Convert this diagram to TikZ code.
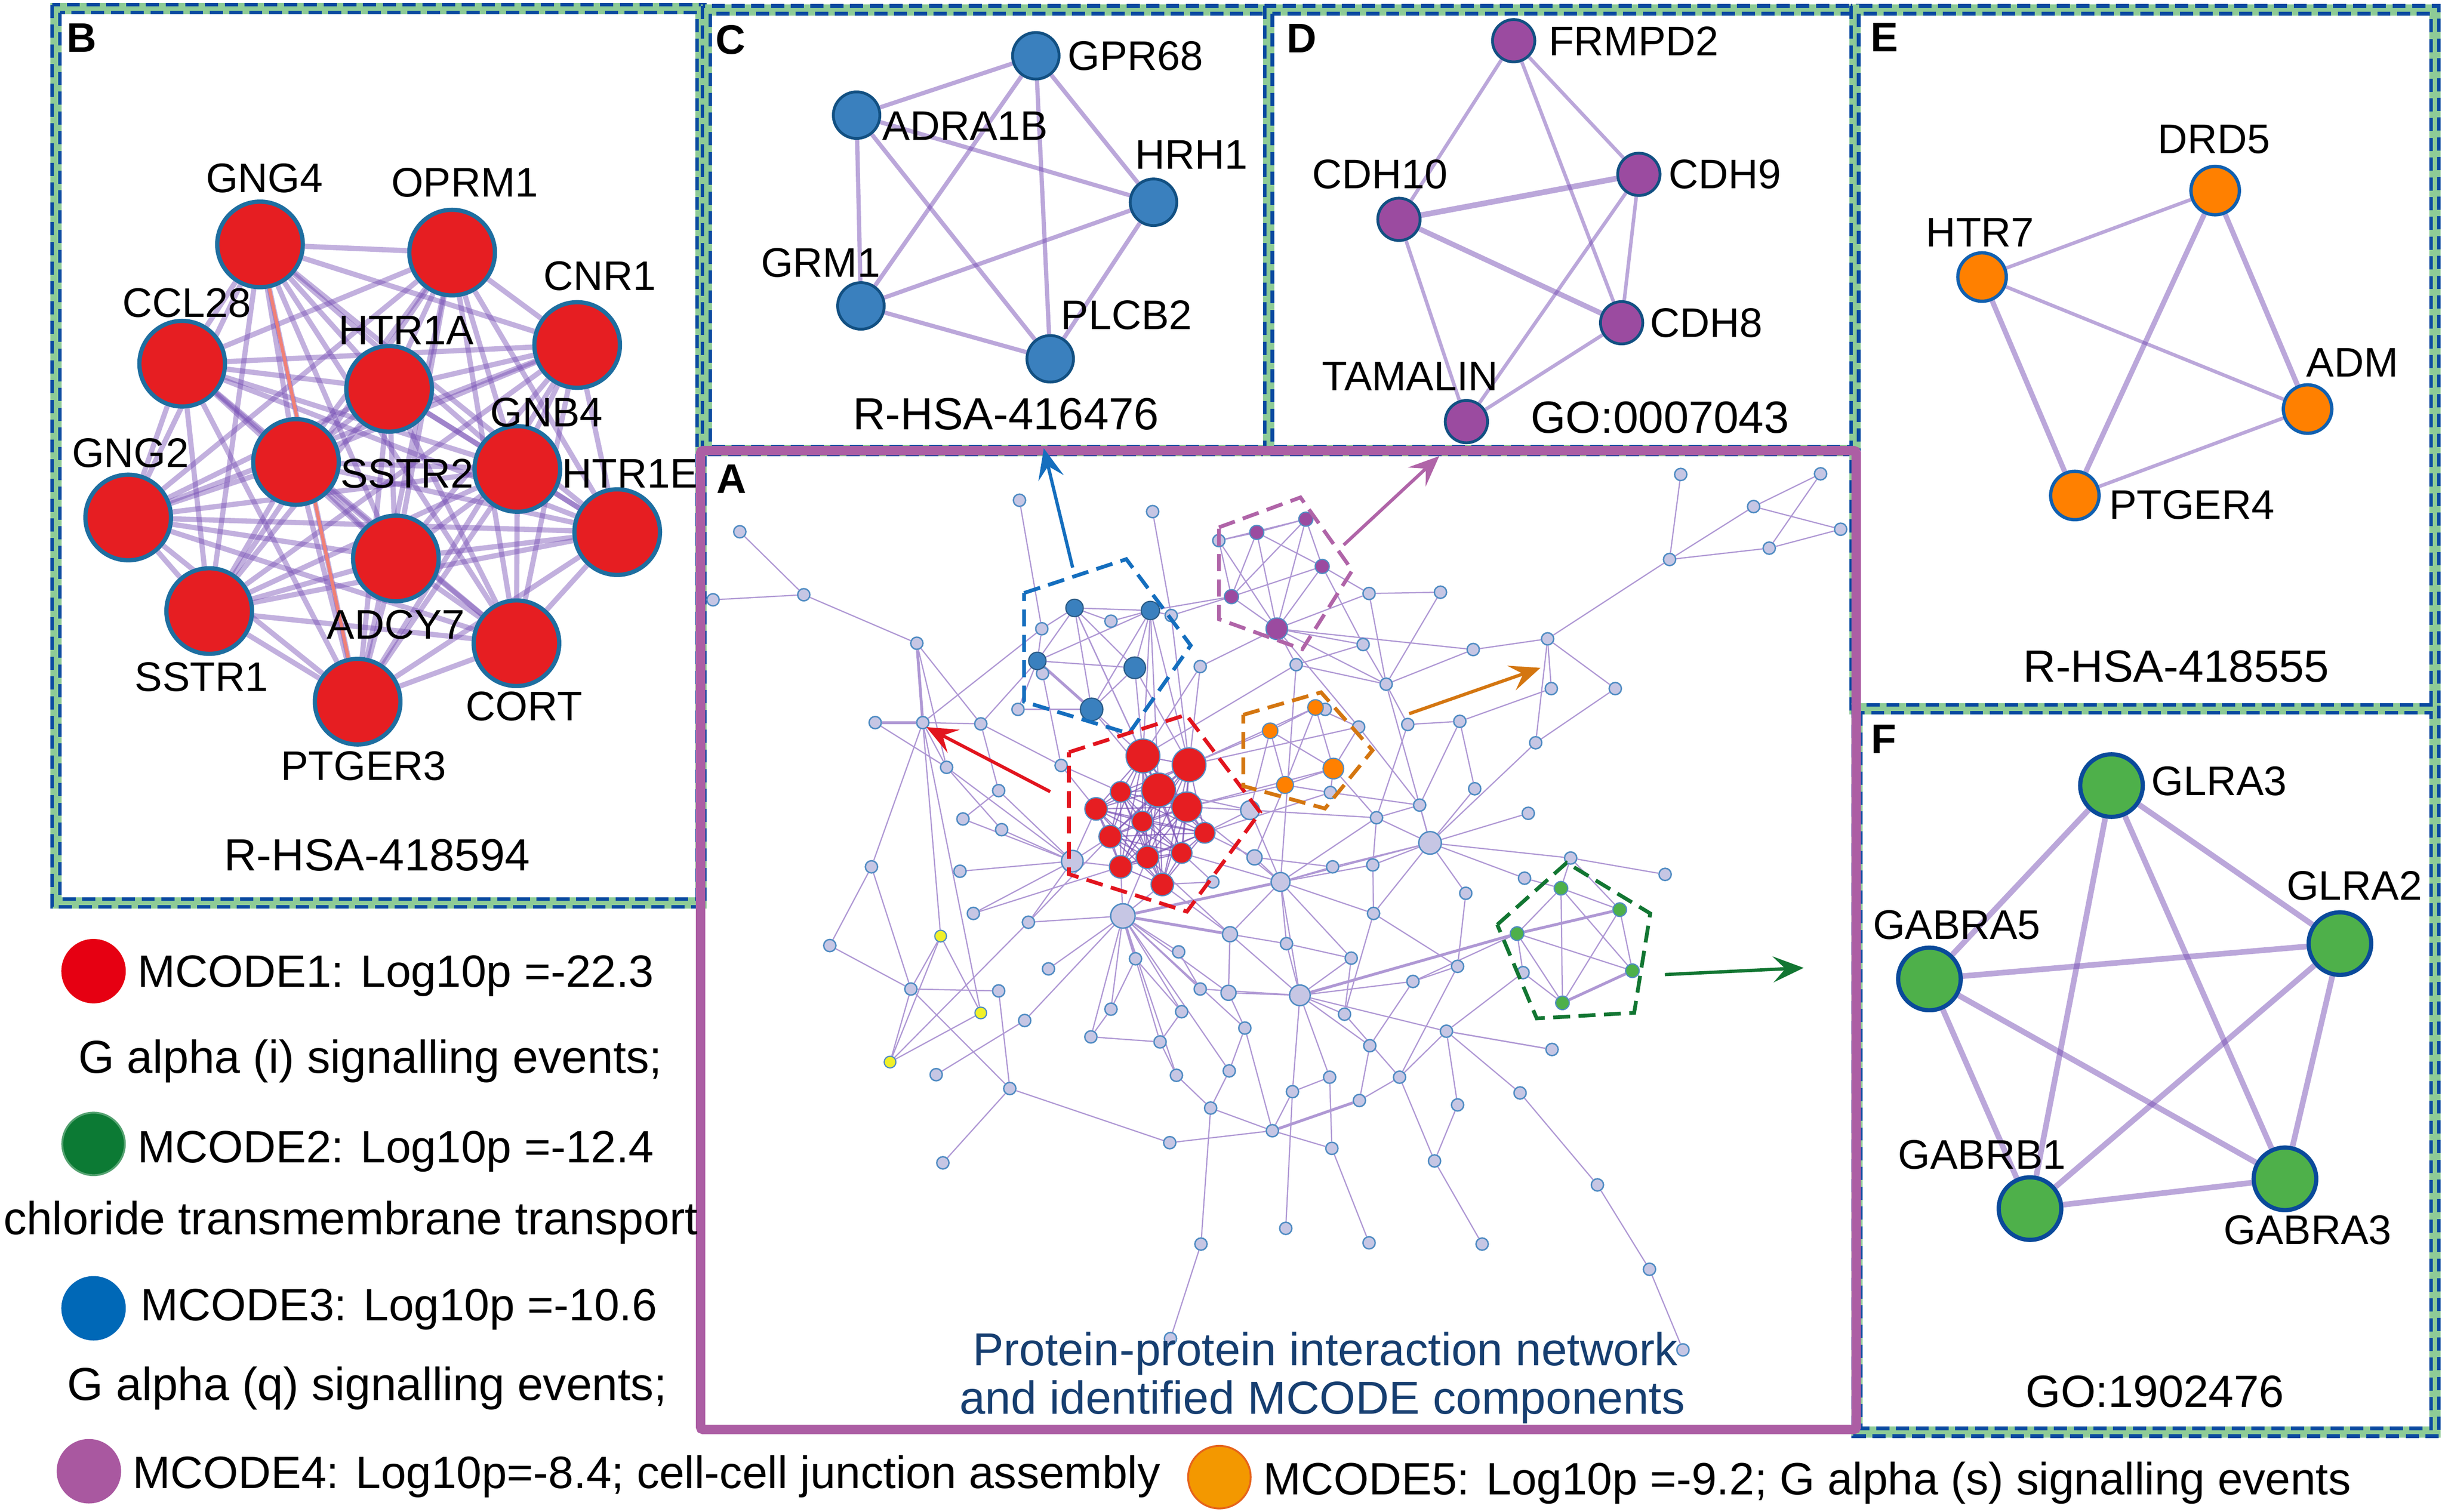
\documentclass[tikz,border=0pt]{standalone}
\usepackage{fontspec}
\setmainfont{Liberation Sans}
\usetikzlibrary{arrows.meta,calc}
\pgfdeclarelayer{bg}
\pgfdeclarelayer{edges}
\pgfsetlayers{bg,edges,main}
\definecolor{fgreen}{RGB}{142,203,150}
\definecolor{fblue}{RGB}{10,74,160}
\definecolor{apurple}{RGB}{172,94,164}
\definecolor{edgep}{RGB}{120,80,182}
\definecolor{netedge}{RGB}{175,152,212}
\definecolor{gfill}{RGB}{198,198,228}
\definecolor{gline}{RGB}{80,140,195}
\definecolor{rfill}{RGB}{230,30,34}
\definecolor{redline}{RGB}{30,110,160}
\definecolor{bfill}{RGB}{58,128,190}
\definecolor{bline}{RGB}{18,80,130}
\definecolor{pfill}{RGB}{155,75,160}
\definecolor{ofill}{RGB}{255,128,0}
\definecolor{eline}{RGB}{16,96,176}
\definecolor{gnfill}{RGB}{78,176,74}
\definecolor{fline}{RGB}{10,74,154}
\definecolor{yfill}{RGB}{240,240,40}
\definecolor{cblue}{RGB}{20,110,190}
\definecolor{cred}{RGB}{226,20,30}
\definecolor{cpurple}{RGB}{176,100,168}
\definecolor{corange}{RGB}{212,118,16}
\definecolor{cgreen}{RGB}{18,118,50}
\definecolor{captblue}{RGB}{22,62,112}
\definecolor{salmon}{RGB}{240,128,118}
\definecolor{lred}{RGB}{230,0,18}
\definecolor{lgreen}{RGB}{12,122,52}
\definecolor{lblue}{RGB}{0,104,183}
\definecolor{lpurple}{RGB}{169,88,160}
\definecolor{lorange}{RGB}{243,152,0}
\newcommand\myGene{\fontsize{25}{30}\selectfont}
\newcommand\myCap{\fontsize{27.3}{32}\selectfont}
\newcommand\myLeg{\fontsize{28}{33}\selectfont}
\newcommand\myLegS{\fontsize{27.4}{33}\selectfont}
\newcommand\myPan{\fontsize{25}{30}\selectfont\bfseries}
\newcommand\dframe[4]{%
  \draw[fgreen, line width=2.4mm] (#1,#2) rectangle (#3,#4);
  \draw[fblue, line width=0.75mm, dash pattern=on 2.8mm off 1.4mm] ($(#1,#2)+(-0.83mm,0.83mm)$) rectangle ($(#3,#4)+(0.83mm,-0.83mm)$);
  \draw[fblue, line width=0.75mm, dash pattern=on 2.8mm off 1.4mm] ($(#1,#2)+(0.83mm,-0.83mm)$) rectangle ($(#3,#4)+(-0.83mm,0.83mm)$);}
\begin{document}
\begin{tikzpicture}[x=0.03316cm,y=-0.03316cm,
  gene/.style={font=\myGene, inner sep=0pt},
  capt/.style={font=\myCap, inner sep=0pt},
  pan/.style={font=\myPan, inner sep=0pt},
  leg/.style={font=\myLeg, inner sep=0pt, anchor=west},
  legs/.style={font=\myLegS, inner sep=0pt, anchor=west},
  bigred/.style={circle, fill=rfill, draw=redline, line width=0.9mm, minimum size=18.2mm, inner sep=0pt},
  cnode/.style={circle, fill=bfill, draw=bline, line width=0.6mm, minimum size=9.9mm, inner sep=0pt},
  dnode/.style={circle, fill=pfill, draw=bline, line width=0.6mm, minimum size=9mm, inner sep=0pt},
  enode/.style={circle, fill=ofill, draw=eline, line width=0.7mm, minimum size=10.3mm, inner sep=0pt},
  fnode/.style={circle, fill=gnfill, draw=fline, line width=0.9mm, minimum size=13.3mm, inner sep=0pt},
  gn/.style={circle, fill=gfill, draw=gline, line width=0.3mm, inner sep=0pt},
  mn/.style={circle, draw=gline, line width=0.25mm, inner sep=0pt},
  bedge/.style={edgep, line width=1.1mm, opacity=0.45},
  pedge/.style={edgep, line width=0.9mm, opacity=0.5},
  net/.style={netedge, line width=0.26mm},
  netk/.style={netedge, line width=0.6mm},
  redge/.style={edgep, line width=0.25mm, opacity=0.7},
  pent/.style={line width=0.8mm, dash pattern=on 3.6mm off 1.8mm},
  arr/.style={line width=0.7mm, -{Stealth[length=6.5mm,width=5.5mm,inset=2.6mm]}},
  legc/.style={circle, minimum size=13.3mm, inner sep=0pt, line width=0.4mm}]
\begin{pgfonlayer}{bg}
\fill[white] (0,0) rectangle (1568,969.5);
\end{pgfonlayer}
\useasboundingbox (0,0) rectangle (1568,969.5);

% ---------- frames ----------
\dframe{36}{5.6}{449.5}{579}
\dframe{453}{6.3}{813.5}{289}
\dframe{813.5}{6.3}{1189.5}{289}
\dframe{1189.5}{6.3}{1561.5}{454.5}
\dframe{1191}{454.5}{1561.5}{918.5}
\draw[apurple, line width=2mm, rounded corners=0.5mm] (449.3,289) rectangle (1190.4,916.7);

% ---------- panel B ----------
\begin{scope}[xscale=0.2885, yscale=0.375]
  \node[pan] (labB) at (182,65) {B};
  \foreach \nm/\x/\y in {GNG4/578/418, OPRM1/1005/432, CNR1/1283/590, CCL28/405/622, HTR1A/865/665, SSTR2/658/790, GNB4/1150/802, HTR1E/1372/910, GNG2/285/885, ADCY7/880/955, SSTR1/465/1045, CORT/1148/1100, PTGER3/795/1200}
    \node[bigred] (\nm) at (\x,\y) {};
  \foreach \nm/\x/\y in {GNG4/588/305, OPRM1/1033/312, CNR1/1333/472, CCL28/415/518, HTR1A/903/565, GNB4/1215/705, GNG2/290/775, SSTR2/905/810, HTR1E/1400/810, ADCY7/880/1068, SSTR1/448/1158, CORT/1165/1208, PTGER3/808/1310}
    \node[gene] (l\nm) at (\x,\y) {\nm};
  \node[capt] (capB) at (838,1462) {R-HSA-418594};
\end{scope}
\begin{pgfonlayer}{edges}
  \foreach \i [count=\ci] in {GNG4,OPRM1,CNR1,CCL28,HTR1A,SSTR2,GNB4,HTR1E,GNG2,ADCY7,SSTR1,CORT,PTGER3}{
    \foreach \j [count=\cj] in {GNG4,OPRM1,CNR1,CCL28,HTR1A,SSTR2,GNB4,HTR1E,GNG2,ADCY7,SSTR1,CORT,PTGER3}{
      \ifnum\cj>\ci \draw[bedge] (\i) -- (\j);\fi
    }
  }
  \draw[salmon, line width=0.7mm] (GNG4) -- (PTGER3);
\end{pgfonlayer}

% ---------- panel C ----------
\begin{scope}[shift={(452.4,0)}, scale=0.2308]
  \node[pan] (labC) at (70,110) {C};
  \foreach \nm/\x/\y in {GPR68/918/155, ADRA1B/420/320, HRH1/1245/562, GRM1/432/850, PLCB2/958/997}
    \node[cnode] (\nm) at (\x,\y) {};
  \foreach \nm/\x/\y in {GPR68/1195/155, ADRA1B/722/350, HRH1/1350/430, GRM1/320/730, PLCB2/1170/875}
    \node[gene] (l\nm) at (\x,\y) {\nm};
  \node[capt] (capC) at (835,1150) {R-HSA-416476};
\end{scope}
\begin{pgfonlayer}{edges}
  \foreach \a/\b in {GPR68/ADRA1B, GPR68/GRM1, GPR68/PLCB2, GPR68/HRH1, ADRA1B/HRH1, ADRA1B/GRM1, ADRA1B/PLCB2, GRM1/HRH1, GRM1/PLCB2, HRH1/PLCB2}
    \draw[pedge] (\a) -- (\b);
\end{pgfonlayer}

% ---------- panel D ----------
\begin{scope}[shift={(452.4,0)}, xscale=0.4808, yscale=0.1827]
  \node[pan] (labD) at (795,135) {D};
  \foreach \nm/\x/\y in {FRMPD2/1078/143, CDH9/1245/612, CDH10/925/770, CDH8/1222/1133, TAMALIN/1015/1480}
    \node[dnode] (\nm) at (\x,\y) {};
  \foreach \nm/\x/\y in {FRMPD2/1238/145, CDH9/1360/612, CDH10/900/612, CDH8/1335/1133, TAMALIN/940/1320}
    \node[gene] (l\nm) at (\x,\y) {\nm};
  \node[capt] (capD) at (1273,1465) {GO:0007043};
\end{scope}
\begin{pgfonlayer}{edges}
  \foreach \a/\b in {FRMPD2/CDH10, FRMPD2/CDH9, FRMPD2/CDH8, CDH10/TAMALIN, CDH9/CDH8, CDH9/TAMALIN, CDH8/TAMALIN}
    \draw[pedge, line width=0.75mm] (\a) -- (\b);
  \draw[pedge, line width=1.2mm] (CDH10) -- (CDH9);
  \draw[pedge, line width=1.1mm] (CDH10) -- (CDH8);
\end{pgfonlayer}

% ---------- panels E and F ----------
\begin{scope}[shift={(1176.1,0)}, xscale=0.25, yscale=0.5962]
  \node[pan] (labE) at (130,40) {E};
  \foreach \nm/\x/\y in {DRD5/978/205, HTR7/380/298, ADM/1215/440, PTGER4/618/533}
    \node[enode] (\nm) at (\x,\y) {};
  \foreach \nm/\x/\y in {DRD5/975/150, HTR7/375/250, ADM/1330/390, PTGER4/918/543}
    \node[gene] (l\nm) at (\x,\y) {\nm};
  \node[capt] (capE) at (878,717) {R-HSA-418555};
  \node[pan] (labF) at (128,795) {F};
  \foreach \nm/\x/\y in {GLRA3/712/845, GLRA2/1298/1015, GABRA5/245/1053, GABRB1/503/1300, GABRA3/1157/1268}
    \node[fnode] (\nm) at (\x,\y) {};
  \foreach \nm/\x/\y in {GLRA3/988/840, GLRA2/1335/953, GABRA5/315/995, GABRB1/380/1242, GABRA3/1215/1323}
    \node[gene] (l\nm) at (\x,\y) {\nm};
  \node[capt] (capF) at (823,1497) {GO:1902476};
\end{scope}
\begin{pgfonlayer}{edges}
  \foreach \a/\b in {HTR7/DRD5, HTR7/ADM, PTGER4/ADM}
    \draw[pedge, line width=0.75mm] (\a) -- (\b);
  \foreach \a/\b in {HTR7/PTGER4, DRD5/PTGER4, DRD5/ADM}
    \draw[pedge, line width=1.1mm] (\a) -- (\b);
  \foreach \a/\b in {GLRA3/GABRA5, GLRA3/GLRA2, GLRA3/GABRB1, GLRA3/GABRA3, GABRA5/GLRA2, GABRA5/GABRB1, GABRA5/GABRA3, GLRA2/GABRB1, GLRA2/GABRA3, GABRB1/GABRA3}
    \draw[pedge, line width=1.2mm] (\a) -- (\b);
\end{pgfonlayer}

% ---------- panel A: network ----------
\node[pan] (labA) at (469,307) {A};
\begin{scope}[shift={(446.3,286.5)}, xscale=0.477, yscale=0.4039]
  \foreach \n/\x/\y/\s in {1/435/85/2.6, 2/614/103/2.6, 3/1324/44/2.6, 4/1512/43/2.6, 5/1422/95/2.6, 6/1539/131/2.6, 7/1443/161/2.6, 8/1309/179/2.6, 9/59/135/2.6, 10/23/243/2.6, 11/145/235/2.6, 12/297/312/2.6, 13/703/149/2.6, 14/905/233/2.6, 15/1001/231/2.6, 16/639/268/2.6, 17/465/289/2.6, 18/558/277/2.6, 19/897/314/2.6, 20/1045/322/2.6, 21/1145/305/2.6, 22/807/346/2.6, 23/678/349/2.6, 24/466/360/2.6, 25/928/377/2.6, 26/1150/384/2.6, 27/1236/384/2.6, 28/433/417/2.6, 29/241/438/2.6, 30/305/438/2.6, 31/383/440/2.6, 32/891/445/2.6, 33/957/441/2.6, 34/1027/436/2.6, 35/1129/470/2.6, 36/853/549/2.6, 37/337/509/2.6, 38/407/546/2.6, 39/491/506/2.6, 40/1047/543/2.6, 41/973/569/2.6, 42/359/591/2.6, 43/411/608/2.6, 44/745/577/4.0, 45/915/589/2.6, 46/1119/582/2.6, 47/987/629/4.8, 48/506/658/4.6, 49/751/652/3.2, 50/236/667/2.6, 51/355/674/2.6, 52/856/667/2.6, 53/910/664/2.6, 54/1176/653/2.6, 55/1303/679/2.6, 56/1114/685/2.6, 57/786/691/4.0, 58/1035/709/2.6, 59/574/745/5.2, 60/447/755/2.6, 61/373/741/2.6, 62/718/774/3.2, 63/911/741/2.6, 64/794/789/2.6, 65/180/792/2.6, 66/591/813/2.6, 67/649/802/2.6, 68/474/829/2.6, 69/881/812/2.6, 70/1024/825/2.6, 71/1112/835/2.6, 72/289/861/2.6, 73/407/864/2.6, 74/716/867/3.2, 75/678/861/2.6, 76/812/871/4.4, 77/964/849/2.6, 78/558/893/2.6, 79/653/897/2.6, 80/872/901/2.6, 81/442/911/2.6, 82/1009/928/2.6, 83/531/937/2.6, 84/624/945/2.6, 85/738/923/2.6, 86/906/951/2.6, 87/1151/957/2.6, 88/323/997/2.6, 89/646/998/2.6, 90/717/991/2.6, 91/852/1001/2.6, 92/946/1001/2.6, 93/422/1019/2.6, 94/1108/1026/2.6, 95/802/1024/2.6, 96/892/1038/2.6, 97/1024/1045/2.6, 98/692/1050/2.6, 99/775/1086/2.6, 100/637/1105/2.6, 101/855/1114/2.6, 102/332/1137/2.6, 103/993/1134/2.6, 104/1212/1172/2.6, 105/679/1266/2.6, 106/793/1241/2.6, 107/905/1264/2.6, 108/1057/1266/2.6, 109/1282/1306/2.6, 110/638/1416/2.6, 111/1327/1434/2.6, 112/846/417/2.6, 113/695/691/2.6}
    \node[gn, minimum size=\s mm] (n\n) at (\x,\y) {};
  \foreach \n/\x/\y/\s in {1/601/491/7.2, 2/663/505/7.2, 3/622/545/7.2, 4/571/548/4.4, 5/538/575/4.8, 6/660/572/6.4, 7/600/595/4.4, 8/684/613/4.4, 9/557/619/4.8, 10/653/645/4.4, 11/607/652/4.8, 12/571/667/4.8, 13/627/695/4.8}
    \node[mn, fill=rfill, minimum size=\s mm] (R\n) at (\x,\y) {};
  \foreach \n/\x/\y/\s in {1/509/256/3.7, 2/611/260/3.9, 3/459/340/3.7, 4/590/351/4.6, 5/532/417/4.8}
    \node[mn, fill=bfill, draw=bfill!70!black, minimum size=\s mm] (b\n) at (\x,\y) {};
  \foreach \n/\x/\y/\s in {1/754/136/3.0, 2/820/115/3.0, 3/842/190/3.0, 4/720/238/3.0, 5/781/289/4.6}
    \node[mn, fill=pfill, minimum size=\s mm] (p\n) at (\x,\y) {};
  \foreach \n/\x/\y/\s in {1/833/414/3.3, 2/772/451/3.3, 3/857/511/4.4, 4/792/537/3.6}
    \node[mn, fill=ofill, minimum size=\s mm] (o\n) at (\x,\y) {};
  \foreach \n/\x/\y in {1/1163/701, 2/1242/735, 3/1104/773, 4/1259/832, 5/1165/883}
    \node[mn, fill=gnfill, minimum size=2.9mm] (g\n) at (\x,\y) {};
  \foreach \n/\x/\y in {1/329/777, 2/383/899, 3/261/977}
    \node[mn, fill=yfill, minimum size=2.5mm] (y\n) at (\x,\y) {};
\end{scope}
\begin{pgfonlayer}{edges}
  \foreach \a/\b in {n9/n11, n10/n11, n11/n12, n12/n31, n12/n37, n30/n31, n29/n37, n30/n37, n30/n17, n30/n50, n30/y1, n30/y2, n31/n38, n31/n39, n37/n43, n37/n48, n38/n48, n42/n48, n43/n48, n38/n42, n50/n65, n50/n72, n65/n72, n51/n48, n61/n48, n60/n48, n60/n59, n68/n59, n72/n73, y1/n72, y1/y3, y1/y2, y2/y3, y3/n72, y3/n60, n73/n93, n72/n93, n93/n102, n93/n100, n88/n81, n81/n59, n66/n59, n67/n59, n78/n59, n83/n78, n100/n99, n105/n110, n105/n98, n1/n17, n2/n16, n17/b1, n17/b3, n24/b3, n28/b5, n28/b3, n18/b1, n18/b2, n16/b2, n16/R2, n24/n39, n31/b3, n39/R5, n39/R4,
    b1/b2, b1/b3, b1/b4, b1/b5, b2/b4, b2/b5, b3/b4, b2/b3, b4/b5, b1/R1, b2/R1, b4/R1, b5/R1, b4/R2, b5/R3, b2/R3, b1/R3, b2/R2,
    R2/o2, R2/o1, R6/o3, R6/o4, R1/n23, R2/n23, R8/n44, R8/n49, R9/n48, R12/n48, R5/n48, R13/n59, R12/n59, R11/n59, R1/n22, R3/n44, R13/n113, R10/n113, R8/n36, R6/n44, R2/n32, R6/n57, R10/n57, R13/n62, R11/n62, R9/n60, R12/n61,
    p1/p2, p1/p3, p1/p4, p1/p5, p2/p3, p2/p4, p2/p5, p3/p4, p3/p5, p4/p5, n13/p1, n13/p4, n13/p5, n13/p2, p5/n22, p5/n23, p5/n19, p5/n14, p3/n14, p5/n25, p5/n32, p4/b2, p4/n16, p3/n19, p5/n20,
    o1/o2, o1/o3, o1/o4, o2/o3, o2/o4, o3/o4, o1/n112, o3/n36, o4/n36, o2/n44, o3/n32, o1/n32, o3/n45, o4/n49,
    n3/n8, n8/n5, n8/n7, n5/n4, n5/n6, n4/n7, n7/n6, n8/n21, n21/n20, n20/n25, n21/n26, n21/n27, n21/n35, n27/n35, n26/n34, n14/n15, n14/n25, n15/n25, n19/n25, n25/n33, n25/n47, n34/n40, n34/n41, n35/n47, n33/n45, n40/n47, n41/n47, n47/n46, n47/n45, n47/n54, n54/n55, n47/n53, n47/n52, n47/n56, n47/n58, n47/n63, n47/n57, n54/g1, n22/n57, n22/n25, n19/n22, n32/n41, n33/n34,
    n57/n44, n57/n49, n57/n52, n57/n53, n57/n45, n57/n64, n57/n62, n57/n63, n57/n76, n57/n69, n64/n76, n64/n69, n62/n76, n62/n74, n44/n45, n45/n53, n52/n49,
    n76/n69, n76/n80, n76/n86, n76/n91, n76/n95, n76/n82, n76/n77, n76/n74, n76/n75, n63/n80, n58/n70, n70/n92, n70/n77, n82/n87, n82/n71, n82/n92, n82/n94, n94/n104, n104/n109, n109/n111, n92/n80, n92/n96, n92/n103, n103/n108, n91/n101, n101/n107, n106/n95, n99/n95, n99/n98, n99/n101, n98/n89, n89/n84, n84/n79, n79/n66, n75/n67, n74/n62, n85/n74, n85/n90, n90/n98, n89/n59, n83/n84, n78/n66, n59/n75, n59/n74, n59/n85, n59/n90, g3/n71, g5/n71, g3/n77, g1/n56, n87/n82, n97/n82, n97/n103, n86/n96, n86/n77, n36/n41, n45/n41, n53/n63, n63/n70, n69/n80, n64/n62, n59/n79, n59/n84, n59/n83, n99/n85, n95/n91,
    g1/g2, g1/g3, g1/g4, g1/g5, g2/g4, g2/g5, g3/g4, g3/g5, n54/g2}
    \draw[net] (\a) -- (\b);
  \foreach \a/\b in {n12/n30, n29/n30, b3/b5, n96/n99, g2/g3, g4/g5, n76/g3, n62/n59, n57/n59, n59/n66}
    \draw[netk] (\a) -- (\b);
  \foreach \i in {1,...,13}{
    \foreach \j in {1,...,13}{
      \ifnum\j>\i \draw[redge] (R\i) -- (R\j);\fi
    }
  }
\end{pgfonlayer}

% ---------- dashed cluster outlines ----------
\draw[pent, cblue] (656.7,380.3) -- (722.3,358.6) -- (763.6,413.9) -- (724,470.4) -- (656.7,450) -- cycle;
\draw[pent, cred] (685.5,482.4) -- (760.7,458.4) -- (808.1,520.9) -- (761.2,584.6) -- (685.5,560.6) -- cycle;
\draw[pent, cpurple] (781.7,338.2) -- (834,319) -- (867.2,365.8) -- (835.2,416.3) -- (781.7,397.1) -- cycle;
\draw[pent, corange] (797.3,458.4) -- (847.2,444) -- (880.2,481.2) -- (849.7,518.5) -- (797.3,504.1) -- cycle;
\draw[pent, cgreen] (960.2,593) -- (1004.7,553.3) -- (1058.3,585.8) -- (1048,649.5) -- (985.5,653.1) -- cycle;

% ---------- arrows ----------
\coordinate (aBs) at (687.9,364);
\coordinate (aBe) at (669.4,287.5);
\coordinate (aRs) at (673.5,507.7);
\coordinate (aRe) at (594.1,466.3);
\coordinate (aPs) at (861.7,349.5);
\coordinate (aPe) at (923,292.5);
\coordinate (aOs) at (903.7,457.7);
\coordinate (aOe) at (987.9,428.3);
\coordinate (aGs) at (1067.7,625);
\coordinate (aGe) at (1156.7,620.7);
\draw[arr, cblue] (aBs) -- (aBe);
\draw[arr, cred] (aRs) -- (aRe);
\draw[arr, cpurple] (aPs) -- (aPe);
\draw[arr, corange] (aOs) -- (aOe);
\draw[arr, cgreen] (aGs) -- (aGe);

% ---------- caption of A ----------
\node[font=\myLeg, text=captblue, inner sep=0pt] (capA1) at (850,868) {Protein-protein interaction network};
\node[font=\myLeg, text=captblue, inner sep=0pt] (capA2) at (848,899) {and identified MCODE components};

% ---------- legend ----------
\node[legc, fill=lred, draw=lred] (L1) at (60,622.8) {};
\node[legs] (T1) at (88,626) {MCODE1: Log10p =-22.3};
\node[leg] (T1b) at (50,680.5) {G alpha (i) signalling events;};
\node[legc, fill=lgreen, draw=lgreen!70!white] (L2) at (60,733.6) {};
\node[legs] (T2) at (88,738.6) {MCODE2: Log10p =-12.4};
\node[leg] (T2b) at (2,784) {chloride transmembrane transport};
\node[legc, fill=lblue, draw=lblue] (L3) at (60,839) {};
\node[legs] (T3) at (90,839.8) {MCODE3: Log10p =-10.6};
\node[leg] (T3b) at (43,890.4) {G alpha (q) signalling events;};
\node[legc, fill=lpurple, draw=lpurple] (L4) at (57,943.5) {};
\node[legs] (T4) at (85,946.8) {MCODE4: Log10p=-8.4; cell-cell junction assembly};
\node[legc, fill=lorange, draw={rgb,255:red,230;green,100;blue,27}] (L5) at (782,947.3) {};
\node[legs] (T5) at (810,951) {MCODE5: Log10p =-9.2; G alpha (s) signalling events};
\end{tikzpicture}
\end{document}
